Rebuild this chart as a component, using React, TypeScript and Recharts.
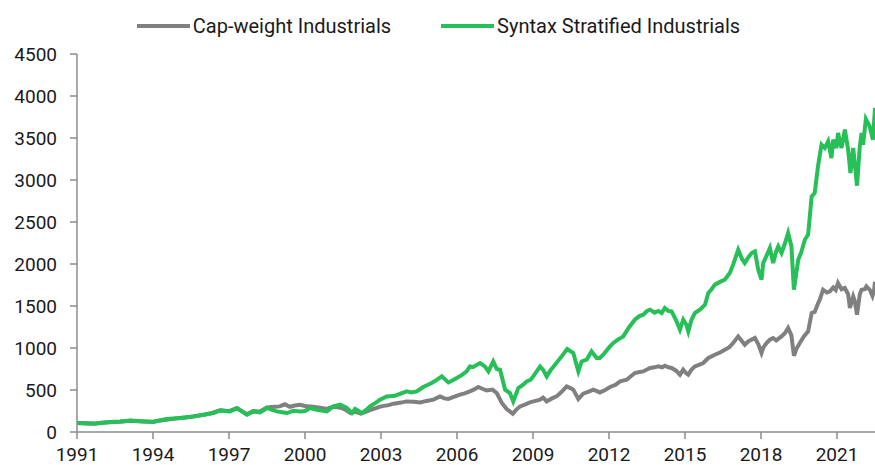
import { LineChart, Line, XAxis, YAxis } from "recharts";

// readings (x = fractional year position on the axis)
const capYears = [
  1991.0, 1991.4, 1991.7, 1992.0, 1992.3, 1992.7, 1993.1, 1993.4, 1993.7, 1994.0, 1994.3, 1994.6,
  1995.0, 1995.3, 1995.6, 1996.0, 1996.3, 1996.65, 1997.0, 1997.3, 1997.5, 1997.7, 1997.95, 1998.2,
  1998.5, 1998.8, 1999.0, 1999.2, 1999.4, 1999.6, 1999.8, 2000.0, 2000.3, 2000.6, 2000.86, 2001.1,
  2001.4, 2001.6, 2001.8, 2002.0, 2002.2, 2002.4, 2002.6, 2002.8, 2003.0, 2003.3, 2003.5, 2003.8,
  2004.0, 2004.3, 2004.55, 2004.8, 2005.07, 2005.33, 2005.5, 2005.66, 2005.9, 2006.12, 2006.3, 2006.51,
  2006.7, 2006.84, 2007.0, 2007.17, 2007.4, 2007.57, 2007.77, 2007.96, 2008.2, 2008.35, 2008.49, 2008.7,
  2008.88, 2009.1, 2009.28, 2009.4, 2009.54, 2009.75, 2009.93, 2010.1, 2010.33, 2010.5, 2010.59, 2010.79,
  2010.98, 2011.2, 2011.38, 2011.5, 2011.64, 2011.85, 2012.04, 2012.25, 2012.44, 2012.7, 2012.85, 2013.02,
  2013.2, 2013.35, 2013.5, 2013.62, 2013.8, 2013.94, 2014.1, 2014.2, 2014.35, 2014.47, 2014.65, 2014.8,
  2014.93, 2015.05, 2015.13, 2015.25, 2015.39, 2015.55, 2015.72, 2015.92, 2016.05, 2016.18, 2016.4, 2016.57,
  2016.75, 2016.9, 2017.1, 2017.25, 2017.36, 2017.5, 2017.63, 2017.76, 2017.9, 2018.02, 2018.1, 2018.22,
  2018.35, 2018.48, 2018.6, 2018.81, 2018.95, 2019.07, 2019.2, 2019.3, 2019.4, 2019.53, 2019.7, 2019.86,
  2020.0, 2020.12, 2020.25, 2020.32, 2020.45, 2020.6, 2020.72, 2020.85, 2020.95, 2021.04, 2021.18, 2021.31,
  2021.44, 2021.51, 2021.64, 2021.7, 2021.79, 2021.9, 2021.97, 2022.1, 2022.16, 2022.3, 2022.4, 2022.46,
  2022.5,
];
const capValues = [
  107, 103, 100, 110, 115, 122, 133, 128, 125, 120, 138, 150,
  165, 172, 185, 205, 225, 258, 248, 282, 250, 212, 250, 240,
  292, 300, 305, 330, 300, 315, 325, 310, 300, 290, 274, 300,
  290, 265, 226, 240, 218, 240, 265, 285, 305, 320, 337, 350,
  364, 360, 352, 370, 385, 424, 400, 393, 420, 444, 460, 483,
  510, 536, 515, 495, 505, 464, 345, 274, 218, 270, 305, 330,
  352, 370, 385, 410, 364, 400, 424, 470, 543, 520, 504, 393,
  456, 480, 504, 490, 471, 500, 536, 560, 602, 622, 660, 702,
  715, 721, 745, 762, 770, 781, 770, 789, 770, 762, 730, 682,
  742, 700, 682, 740, 781, 800, 821, 881, 900, 920, 950, 980,
  1010, 1059, 1138, 1080, 1039, 1080, 1100, 1119, 1040, 940, 1010, 1059,
  1100, 1119, 1090, 1138, 1180, 1238, 1150, 908, 990, 1059, 1140, 1198,
  1417, 1430, 1530, 1575, 1694, 1660, 1674, 1720, 1690, 1774, 1700, 1714,
  1640, 1476, 1614, 1560, 1396, 1640, 1694, 1700, 1733, 1690, 1620, 1680,
  1790,
];

const stratYears = [
  1991.0, 1991.4, 1991.7, 1992.0, 1992.3, 1992.7, 1993.1, 1993.4, 1993.63, 1994.0, 1994.3, 1994.55,
  1995.07, 1995.3, 1995.6, 1996.0, 1996.39, 1996.65, 1997.05, 1997.31, 1997.51, 1997.71, 1997.97, 1998.23,
  1998.5, 1998.7, 1998.89, 1999.15, 1999.3, 1999.54, 1999.81, 2000.0, 2000.2, 2000.47, 2000.86, 2001.12,
  2001.39, 2001.65, 2001.85, 2001.98, 2002.24, 2002.4, 2002.57, 2002.8, 2002.96, 2003.23, 2003.55, 2003.8,
  2004.02, 2004.2, 2004.41, 2004.67, 2005.0, 2005.2, 2005.4, 2005.66, 2005.8, 2005.99, 2006.2, 2006.38,
  2006.51, 2006.64, 2006.91, 2007.1, 2007.24, 2007.43, 2007.57, 2007.7, 2007.9, 2008.09, 2008.22, 2008.42,
  2008.6, 2008.75, 2008.9, 2009.01, 2009.28, 2009.4, 2009.54, 2009.7, 2009.87, 2010.13, 2010.35, 2010.59,
  2010.79, 2010.92, 2011.12, 2011.31, 2011.51, 2011.64, 2011.77, 2012.04, 2012.17, 2012.35, 2012.56, 2012.8,
  2013.02, 2013.2, 2013.35, 2013.5, 2013.62, 2013.8, 2013.95, 2014.08, 2014.2, 2014.35, 2014.47, 2014.65,
  2014.8, 2014.93, 2015.05, 2015.13, 2015.25, 2015.39, 2015.59, 2015.79, 2015.92, 2016.05, 2016.18, 2016.4,
  2016.57, 2016.77, 2016.9, 2017.1, 2017.25, 2017.36, 2017.5, 2017.63, 2017.76, 2017.89, 2018.02, 2018.09,
  2018.22, 2018.35, 2018.48, 2018.6, 2018.68, 2018.81, 2018.95, 2019.07, 2019.2, 2019.3, 2019.47, 2019.6,
  2019.73, 2019.86, 2020.0, 2020.12, 2020.25, 2020.39, 2020.52, 2020.65, 2020.78, 2020.85, 2020.98, 2021.04,
  2021.18, 2021.31, 2021.44, 2021.53, 2021.64, 2021.7, 2021.79, 2021.9, 2021.97, 2022.03, 2022.14, 2022.29,
  2022.42, 2022.5,
];
const stratValues = [
  107, 102, 99, 110, 119, 125, 138, 130, 126, 122, 140, 155,
  167, 175, 186, 206, 226, 257, 245, 286, 245, 206, 245, 233,
  286, 265, 245, 233, 226, 253, 245, 250, 286, 265, 245, 305,
  325, 286, 226, 274, 226, 260, 305, 350, 385, 424, 432, 460,
  483, 470, 483, 536, 583, 620, 662, 590, 610, 643, 680, 721,
  781, 774, 821, 780, 721, 840, 750, 742, 504, 464, 364, 524,
  560, 602, 620, 662, 781, 740, 662, 740, 801, 900, 988, 940,
  721, 840, 861, 960, 881, 881, 920, 1019, 1060, 1100, 1138, 1250,
  1337, 1380, 1396, 1440, 1456, 1420, 1440, 1417, 1476, 1440, 1436, 1330,
  1218, 1337, 1280, 1198, 1330, 1417, 1456, 1515, 1655, 1700, 1754, 1790,
  1813, 1893, 1992, 2170, 2060, 2012, 2080, 2131, 2150, 1932, 1813, 2012,
  2100, 2190, 2012, 2150, 2210, 2131, 2250, 2369, 2210, 1695, 2051, 2150,
  2289, 2349, 2805, 2845, 3162, 3420, 3381, 3460, 3262, 3480, 3381, 3560,
  3381, 3599, 3361, 3083, 3381, 3202, 2932, 3400, 3560, 3420, 3726, 3638,
  3480, 3860,
];

const xTicks = [1991, 1994, 1997, 2000, 2003, 2006, 2009, 2012, 2015, 2018, 2021];
const yTicks = [0, 500, 1000, 1500, 2000, 2500, 3000, 3500, 4000, 4500];

const SERIES = [
  { name: "Cap-weight Industrials", color: "#808080" },
  { name: "Syntax Stratified Industrials", color: "#27bf57" },
];

const capData = capYears.map((year, i) => ({ year, value: capValues[i] }));
const stratData = stratYears.map((year, i) => ({ year, value: stratValues[i] }));

const AXIS = "#8c8c8c";
const FONT = "Roboto, 'Noto Sans', sans-serif";

export default function App() {
  return (
    <div style={{ position: "absolute", left: 0, top: 0, width: 875, height: 465, fontFamily: FONT }}>
      <div
        style={{
          position: "absolute",
          top: 12,
          left: 0,
          width: 875,
          display: "flex",
          justifyContent: "center",
          gap: 50,
          fontSize: 20,
          color: "#1a1a1a",
          paddingLeft: 2,
          boxSizing: "border-box",
        }}
      >
        {SERIES.map((s) => (
          <div key={s.name} style={{ display: "flex", alignItems: "center", height: 28 }}>
            <span style={{ display: "inline-block", width: 53, height: 4, background: s.color, marginRight: 3 }} />
            <span>{s.name}</span>
          </div>
        ))}
      </div>
      <LineChart
        width={875}
        height={465}
        margin={{ top: 54, right: 0, bottom: 0, left: 0 }}
        style={{ fontFamily: FONT, overflow: "visible" }}
      >
        <XAxis
          dataKey="year"
          type="number"
          domain={[1991, 2022.5]}
          ticks={xTicks}
          allowDataOverflow
          height={33}
          tickSize={7}
          tickMargin={9}
          stroke={AXIS}
          strokeWidth={1.5}
          tick={{ fill: "#1a1a1a", fontSize: 19 }}
        />
        <YAxis
          type="number"
          domain={[0, 4500]}
          ticks={yTicks}
          width={77}
          tickSize={7}
          tickMargin={13}
          stroke={AXIS}
          strokeWidth={1.5}
          tick={{ fill: "#1a1a1a", fontSize: 19 }}
        />
        <Line
          data={capData}
          dataKey="value"
          name={SERIES[0].name}
          type="linear"
          stroke={SERIES[0].color}
          strokeWidth={4}
          dot={false}
          isAnimationActive={false}
        />
        <Line
          data={stratData}
          dataKey="value"
          name={SERIES[1].name}
          type="linear"
          stroke={SERIES[1].color}
          strokeWidth={4}
          dot={false}
          isAnimationActive={false}
        />
      </LineChart>
    </div>
  );
}
